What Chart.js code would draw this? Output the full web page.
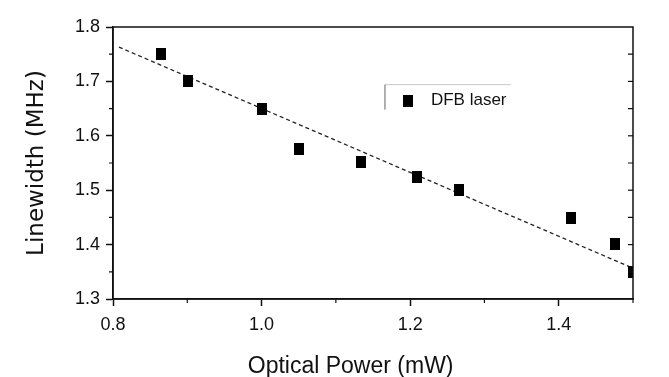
<!DOCTYPE html>
<html lang="en">
<head>
  <title>DFB laser linewidth</title>
  <script type="text/javascript" src="https://cdn.jsdelivr.net/npm/chart.js"></script>
  <style>
    body { margin: 0; background: #fff; }
  </style>
</head>
<body>
<canvas id="chart" width="669" height="377"></canvas>

<script>
  // measured points (optical power in mW, linewidth in MHz)
  const powerMW = [0.865, 0.901, 1.0, 1.05, 1.134, 1.209, 1.266, 1.416, 1.476, 1.5];
  const linewidthMHz = [1.751, 1.700, 1.650, 1.576, 1.551, 1.525, 1.500, 1.449, 1.401, 1.350];

  // dashed linear fit, end points
  const fitX = [0.808, 1.496];
  const fitY = [1.763, 1.359];

  const seriesLabel = 'DFB laser';

  // small filled rectangle used as marker
  const marker = document.createElement('canvas');
  marker.width = 10;
  marker.height = 12;
  const mctx = marker.getContext('2d');
  mctx.fillStyle = '#000';
  mctx.fillRect(0, 0, 10, 12);

  const sans = "'Liberation Sans', Arial, sans-serif";

  // frame, minor ticks and the in-plot legend
  const framePlugin = {
    id: 'frame',
    afterDraw(chart) {
      const ctx = chart.ctx;
      const a = chart.chartArea;
      const xs = chart.scales.x;
      const ys = chart.scales.y;
      ctx.save();
      ctx.strokeStyle = '#111';
      ctx.lineWidth = 1.5;
      ctx.strokeRect(a.left, a.top, a.right - a.left, a.bottom - a.top);

      // minor ticks on bottom axis (outward)
      ctx.lineWidth = 1.2;
      const xt = xs.ticks.map(t => t.value);
      const xStep = xt[1] - xt[0];
      xt.forEach(v => {
        const m = v + xStep / 2;
        if (m <= xs.max + 1e-9) {
          const px = xs.getPixelForValue(m);
          ctx.beginPath();
          ctx.moveTo(px, a.bottom);
          ctx.lineTo(px, a.bottom + 4);
          ctx.stroke();
        }
      });

      // minor ticks left (outward) and all ticks right (inward)
      const yt = ys.ticks.map(t => t.value);
      const yStep = yt[1] - yt[0];
      yt.forEach((v, i) => {
        const py = ys.getPixelForValue(v);
        if (i > 0 && i < yt.length - 1) {
          ctx.beginPath();
          ctx.moveTo(a.right, py);
          ctx.lineTo(a.right - 5, py);
          ctx.stroke();
        }
        const m = v + yStep / 2;
        if (m < ys.max) {
          const pm = ys.getPixelForValue(m);
          ctx.beginPath();
          ctx.moveTo(a.left, pm);
          ctx.lineTo(a.left - 4, pm);
          ctx.moveTo(a.right, pm);
          ctx.lineTo(a.right - 5, pm);
          ctx.stroke();
        }
      });

      // legend box
      const lx = a.left + (a.right - a.left) * 0.523;
      const ly = a.top + (a.bottom - a.top) * 0.212;
      ctx.lineWidth = 1;
      ctx.strokeStyle = '#c8c8c8';
      ctx.beginPath();
      ctx.moveTo(lx, ly);
      ctx.lineTo(lx + 126, ly);
      ctx.stroke();
      ctx.strokeStyle = '#666';
      ctx.beginPath();
      ctx.moveTo(lx, ly);
      ctx.lineTo(lx, ly + 25);
      ctx.stroke();
      ctx.drawImage(marker, lx + 23 - marker.width / 2, ly + 16 - marker.height / 2);
      ctx.fillStyle = '#111';
      ctx.font = '17px ' + sans;
      ctx.textBaseline = 'middle';
      ctx.textAlign = 'left';
      ctx.fillText(chart.data.datasets[0].label, lx + 46, ly + 16);
      ctx.restore();
    }
  };

  new Chart(document.getElementById('chart'), {
    type: 'scatter',
    data: {
      datasets: [
        {
          label: seriesLabel,
          data: powerMW.map((x, i) => ({ x: x, y: linewidthMHz[i] })),
          pointStyle: marker,
          backgroundColor: '#000',
          borderColor: '#000',
          clip: 0,
          order: 1
        },
        {
          label: 'fit',
          data: fitX.map((x, i) => ({ x: x, y: fitY[i] })),
          showLine: true,
          borderColor: '#222',
          borderWidth: 1.3,
          borderDash: [4, 3],
          pointRadius: 0,
          fill: false,
          order: 2
        }
      ]
    },
    options: {
      responsive: false,
      animation: false,
      layout: { padding: { left: 23, top: 27, right: 36, bottom: 0 } },
      plugins: {
        legend: { display: false },
        tooltip: { enabled: false }
      },
      scales: {
        x: {
          type: 'linear',
          position: 'bottom',
          min: 0.8,
          max: 1.5,
          afterFit(scale) { scale.height = 78; },
          ticks: {
            stepSize: 0.2,
            includeBounds: false,
            padding: 8,
            color: '#111',
            font: { family: sans, size: 18 },
            callback: v => v.toFixed(1)
          },
          grid: {
            drawOnChartArea: false,
            drawTicks: true,
            tickLength: 7,
            tickColor: '#111',
            tickWidth: 1.5
          },
          border: { color: '#111', width: 1.5 },
          title: {
            display: true,
            // trailing spaces keep the title a little left of centre, as in the source
            text: 'Optical Power (mW)       ',
            color: '#111',
            padding: { top: 0, bottom: 0 },
            font: { family: sans, size: 23, lineHeight: 0.86 }
          }
        },
        y: {
          min: 1.3,
          max: 1.8,
          afterFit(scale) { scale.width = 90; },
          ticks: {
            stepSize: 0.1,
            padding: 6,
            color: '#111',
            font: { family: sans, size: 18 },
            callback: v => v.toFixed(1)
          },
          grid: {
            drawOnChartArea: false,
            drawTicks: true,
            tickLength: 7,
            tickColor: '#111',
            tickWidth: 1.5
          },
          border: { color: '#111', width: 1.5 },
          title: {
            display: true,
            text: 'Linewidth (MHz)',
            color: '#111',
            padding: { top: 0, bottom: 0 },
            font: { family: "'DejaVu Sans', sans-serif", size: 23 }
          }
        }
      }
    },
    plugins: [framePlugin]
  });
</script>

</body>
</html>
